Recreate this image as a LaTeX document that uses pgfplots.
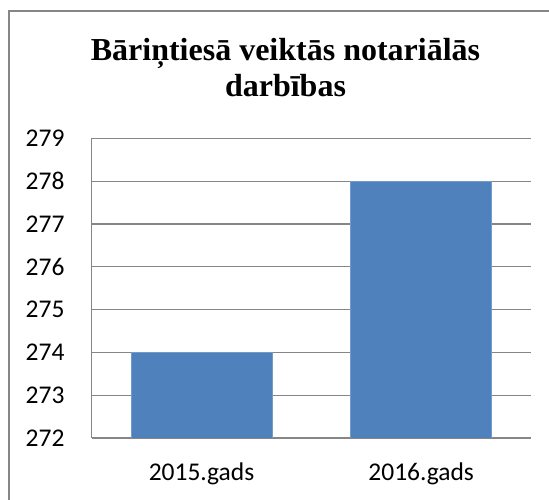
\documentclass[border=0pt]{standalone}
\usepackage{pgfplots}
\pgfplotsset{compat=1.18}
\usepackage{fontspec}
\setmainfont{Carlito}
\newfontfamily\titlefont{Liberation Serif}
\definecolor{barblue}{HTML}{4F81BD}
\definecolor{linegray}{HTML}{868686}

\begin{document}
\begin{tikzpicture}[x=1pt,y=1pt]
  \useasboundingbox (0,0) rectangle (549,500);
  \draw[linegray, line width=1.1pt] (9,0) -- (9,489) -- (549,489);
  \node[anchor=base, font=\titlefont\bfseries\fontsize{32}{36}\selectfont] at (285.5,439.5) {Bāriņtiesā veiktās notariālās};
  \node[anchor=base, font=\titlefont\bfseries\fontsize{32}{36}\selectfont] at (285.5,403.3) {darbības};
  \begin{axis}[
      at={(91.7pt,62pt)},
      anchor=south west,
      scale only axis,
      width=439.3pt,
      height=299.6pt,
      ybar,
      bar width=141pt,
      xmin=-0.5, xmax=1.5,
      ymin=272, ymax=279,
      xtick={0,1},
      xticklabels={2015.gads,2016.gads},
      ytick={272,273,...,279},
      axis x line*=bottom,
      axis y line*=left,
      axis line style={linegray, line width=1.3pt, -},
      major tick length=0pt,
      ymajorgrids,
      grid style={linegray, line width=1.3pt},
      tick label style={font=\fontsize{25.5}{30}\selectfont},
      /pgf/number format/assume math mode=true,
      yticklabel style={anchor=east, inner sep=0pt, xshift=-27pt},
      xticklabel style={anchor=north, inner sep=0pt, yshift=-25pt},
    ]
    \addplot[fill=barblue, draw=barblue!80!white] coordinates {(0,274) (1,278)};
  \end{axis}
\end{tikzpicture}
\end{document}
